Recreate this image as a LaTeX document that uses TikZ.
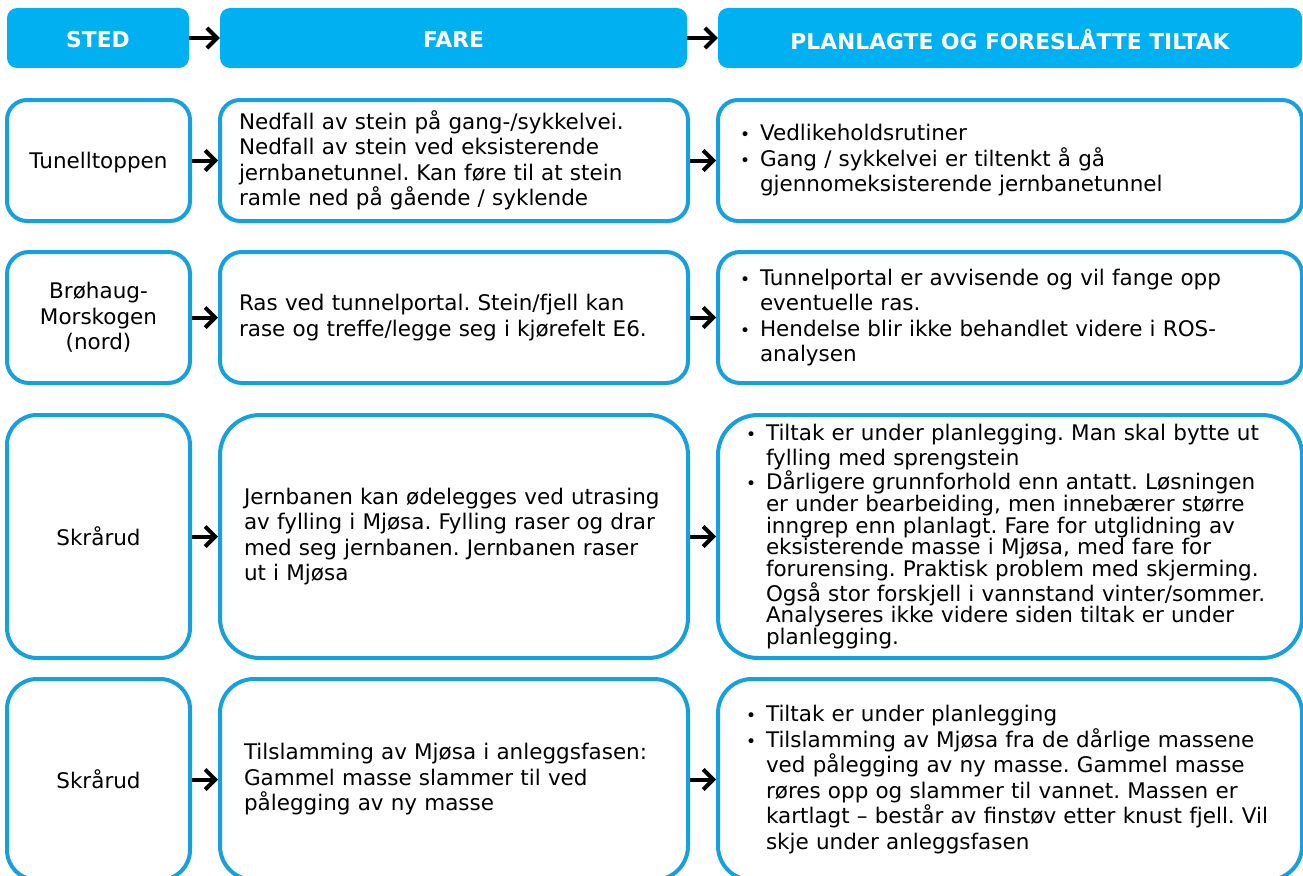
\documentclass[tikz,border=0pt]{standalone}
\usepackage{fontspec}
\setmainfont{DejaVu Sans}
\usetikzlibrary{arrows.meta}
\definecolor{hdr}{RGB}{0,176,240}
\definecolor{bdr}{RGB}{22,160,222}
\newcommand\bl{\makebox[20pt][l]{\fontsize{17}{17}\selectfont •}}
\newcommand\ind{\hspace*{20pt}}
\newcommand\dn[2]{\raisebox{-#1}[\height][\depth]{#2}}
\frenchspacing
\begin{document}
\begin{tikzpicture}[x=1pt,y=-1pt,
  hbox/.style={fill=hdr, draw=none, rounded corners=10pt, minimum height=60pt,
    text=white, font=\fontsize{21.8}{25}\selectfont\bfseries, inner sep=0pt},
  rbox/.style={draw=bdr, line width=4pt, fill=white, inner sep=0pt, align=center,
    font=\fontsize{21.5}{25.5}\selectfont},
  ltxt/.style={align=left, inner xsep=#1},
  arr/.style={line width=4pt, -{Straight Barb[length=10pt,width=20pt]}}
]
\useasboundingbox (0,0) rectangle (1303,875);
\clip (0,0) rectangle (1303,875);
% header
\node[hbox, minimum width=182pt] (h1) at (98,38) {\dn{1.5pt}{STED}};
\node[hbox, minimum width=467pt] (h2) at (453.5,38) {\dn{1.5pt}{FARE}};
\node[hbox, minimum width=584pt] (h3) at (1010,38) {\dn{1.5pt}{PLANLAGTE OG FORESLÅTTE TILTAK}};
% row 1
\node[rbox, rounded corners=20pt, minimum width=183pt, minimum height=121pt] (a1) at (98.5,160.5) {\dn{2pt}{Tunelltoppen}};
\node[rbox, rounded corners=20pt, minimum height=121pt, ltxt=19pt, text width=430pt] (b1) at (454,160.5)
 {Nedfall av stein på gang-/sykkelvei.\\Nedfall av stein ved eksisterende\\jernbanetunnel. Kan føre til at stein\\ramle ned på gående / syklende};
\node[rbox, rounded corners=20pt, minimum height=121pt, ltxt=22pt, text width=540pt] (c1) at (1010,160.5)
 {\bl Vedlikeholdsrutiner\\\bl Gang / sykkelvei er tiltenkt å gå\\\ind gjennomeksisterende jernbanetunnel};
% row 2
\node[rbox, rounded corners=22pt, minimum width=183pt, minimum height=131pt] (a2) at (98.5,317.5) {Brøhaug-\\Morskogen\\(nord)};
\node[rbox, rounded corners=22pt, minimum height=131pt, ltxt=19pt, text width=430pt] (b2) at (454,317.5)
 {Ras ved tunnelportal. Stein/fjell kan\\rase og treffe/legge seg i kjørefelt E6.};
\node[rbox, rounded corners=22pt, minimum height=131pt, ltxt=22pt, text width=540pt] (c2) at (1010,317.5)
 {\bl Tunnelportal er avvisende og vil fange opp\\\ind eventuelle ras.\\\bl Hendelse blir ikke behandlet videre i ROS-\\\ind analysen};
% row 3
\node[rbox, rounded corners=30pt, minimum width=183pt, minimum height=243pt] (a3) at (98.5,536.5) {Skrårud};
\node[rbox, rounded corners=40pt, minimum height=243pt, ltxt=24pt, text width=420pt] (b3) at (454,536.5)
 {Jernbanen kan ødelegges ved utrasing\\av fylling i Mjøsa. Fylling raser og drar\\med seg jernbanen. Jernbanen raser\\ut i Mjøsa};
\node[rbox, rounded corners=40pt, minimum height=243pt, ltxt=28pt, text width=528pt,
  font=\fontsize{21.5}{21.75}\selectfont] (c3) at (1010,536.5)
 {\bl Tiltak er under planlegging. Man skal bytte ut\\[3.25pt]\ind fylling med sprengstein\\\bl Dårligere grunnforhold enn antatt. Løsningen\\\ind er under bearbeiding, men innebærer større\\\ind inngrep enn planlagt. Fare for utglidning av\\\ind eksisterende masse i Mjøsa, med fare for\\\ind forurensing. Praktisk problem med skjerming.\\\ind Også stor forskjell i vannstand vinter/sommer.\\\ind Analyseres ikke videre siden tiltak er under\\\ind planlegging.};
% row 4
\node[rbox, rounded corners=30pt, minimum width=183pt, minimum height=201pt] (a4) at (98.5,779.5) {Skrårud};
\node[rbox, rounded corners=34pt, minimum height=201pt, ltxt=24pt, text width=420pt] (b4) at (454,779.5)
 {Tilslamming av Mjøsa i anleggsfasen:\\Gammel masse slammer til ved\\pålegging av ny masse};
\node[rbox, rounded corners=34pt, minimum height=201pt, ltxt=28pt, text width=528pt] (c4) at (1010,779.5)
 {\bl Tiltak er under planlegging\\\bl Tilslamming av Mjøsa fra de dårlige massene\\\ind ved pålegging av ny masse. Gammel masse\\\ind røres opp og slammer til vannet. Massen er\\\ind kartlagt – består av finstøv etter knust fjell. Vil\\\ind skje under anleggsfasen};
% arrows
\draw[arr] (h1) -- (h2);
\draw[arr] (h2) -- (h3);
\draw[arr] (a1) -- (b1);
\draw[arr] (b1) -- (c1);
\draw[arr] (a2) -- (b2);
\draw[arr] (b2) -- (c2);
\draw[arr] (a3) -- (b3);
\draw[arr] (b3) -- (c3);
\draw[arr] (a4) -- (b4);
\draw[arr] (b4) -- (c4);
\end{tikzpicture}
\end{document}
